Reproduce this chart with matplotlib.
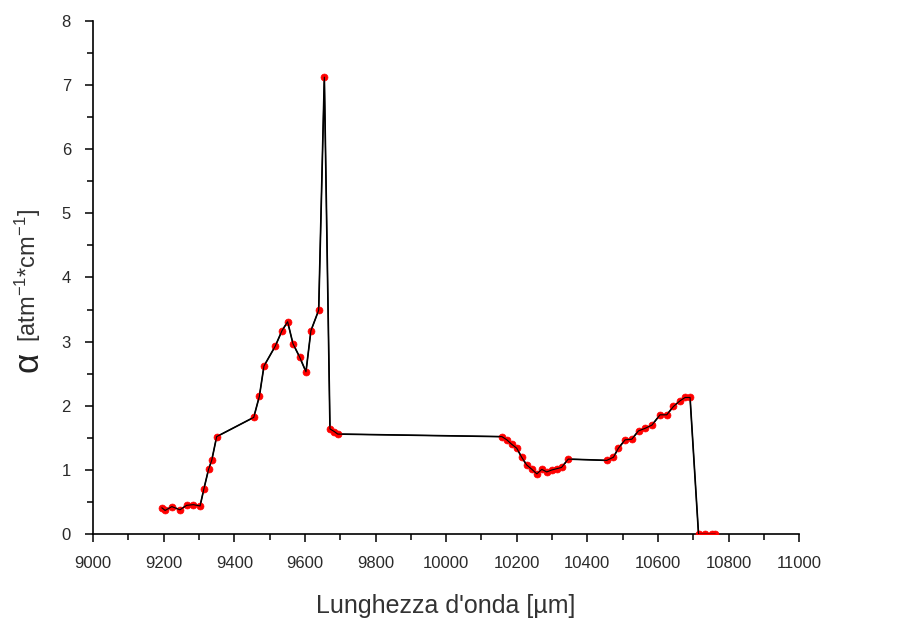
import matplotlib
matplotlib.use("Agg")
import matplotlib.pyplot as plt
from matplotlib.ticker import MultipleLocator

# Absorption coefficient vs wavelength
wavelength = [9195, 9204, 9223, 9246, 9265, 9284, 9303, 9314, 9327, 9336, 9350,
              9455, 9471, 9484, 9516, 9535, 9551, 9566, 9585, 9603, 9617, 9639,
              9655, 9671, 9683, 9693,
              10158, 10172, 10186, 10200, 10214, 10228, 10243, 10257, 10271,
              10285, 10299, 10313, 10327, 10346,
              10455, 10474, 10488, 10507, 10526, 10545, 10564, 10583, 10606,
              10625, 10644, 10663, 10677, 10691,
              10715, 10734, 10753, 10762]
alpha = [0.41, 0.37, 0.43, 0.38, 0.45, 0.46, 0.44, 0.71, 1.01, 1.15, 1.52,
         1.82, 2.15, 2.62, 2.93, 3.17, 3.31, 2.97, 2.76, 2.53, 3.17, 3.49,
         7.12, 1.64, 1.60, 1.56,
         1.52, 1.47, 1.40, 1.34, 1.20, 1.08, 1.01, 0.94, 1.01,
         0.97, 1.00, 1.02, 1.04, 1.17,
         1.15, 1.20, 1.34, 1.47, 1.48, 1.61, 1.65, 1.70, 1.86,
         1.86, 1.99, 2.08, 2.13, 2.13,
         0.0, 0.0, 0.0, 0.0]

x_ticks = [9000, 9200, 9400, 9600, 9800, 10000, 10200, 10400, 10600, 10800, 11000]
y_ticks = [0, 1, 2, 3, 4, 5, 6, 7, 8]

plt.rcParams['font.family'] = ['Liberation Sans', 'DejaVu Sans']
plt.rcParams['mathtext.fontset'] = 'custom'
plt.rcParams['mathtext.rm'] = 'Liberation Sans'
plt.rcParams['mathtext.it'] = 'Liberation Sans'
plt.rcParams['mathtext.default'] = 'regular'

fig = plt.figure(figsize=(9.04, 6.27), dpi=100)
ax = fig.add_axes([0.103, 0.148, 0.781, 0.819])

ax.plot(wavelength, alpha, color='black', lw=1.2, zorder=2)
ax.plot(wavelength, alpha, ls='none', marker='o', ms=5, mfc='red',
        mec='red', mew=0.5, zorder=3)
ax.plot(wavelength, alpha, color='black', lw=0.8, zorder=4)

ax.set_xlim(9000, 11000)
ax.set_ylim(0, 8)
ax.set_xticks(x_ticks)
ax.set_yticks(y_ticks)
ax.xaxis.set_minor_locator(MultipleLocator(100))
ax.yaxis.set_minor_locator(MultipleLocator(0.5))

for s in ('top', 'right'):
    ax.spines[s].set_visible(False)
for s in ('left', 'bottom'):
    ax.spines[s].set_linewidth(1.2)

ax.tick_params(which='major', direction='out', length=6, width=1.1,
               labelsize=12, labelcolor='#2a2a2a')
ax.tick_params(axis='x', which='major', pad=10)
ax.tick_params(axis='y', which='major', pad=10)
ax.tick_params(which='minor', direction='out', length=4, width=1.1)

ax.set_xlabel("Lunghezza d'onda [µm]", fontsize=18, color='#333333', labelpad=16)

# y label: large Greek symbol followed by the units
ax.text(-0.092, 0.335, "α", transform=ax.transAxes, rotation=90,
        ha='center', va='center', fontsize=25, color='#222222')
ax.text(-0.092, 0.375, r"[atm$^{-1}$*cm$^{-1}$]", transform=ax.transAxes,
        rotation=90, ha='center', va='bottom', fontsize=17, color='#333333')

fig.savefig("out.png", dpi=100)
